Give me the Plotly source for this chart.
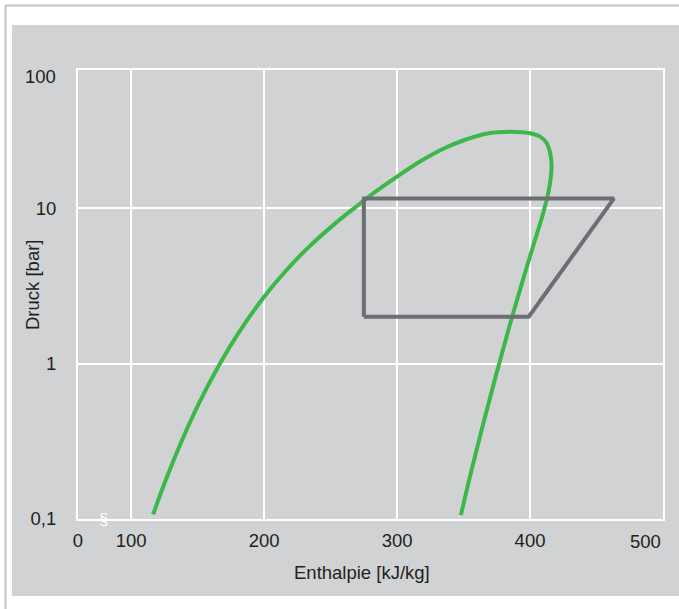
import plotly.graph_objects as go

# Saturation curve: liquid line up to the critical region, then vapour line down
sat_h = [116.5, 126.0, 137.9, 151.3, 166.8, 181.0, 199.3, 216.7, 233.5, 253.3,
         267.9, 283.1, 299.4, 317.5, 334.4, 350.7, 368.8, 385.0,
         400.1, 407.6, 412.6, 415.1, 416.2, 415.6, 413.8, 409.3, 402.1, 393.3,
         383.2, 373.6, 364.4, 355.6, 348.0]
sat_p = [0.107, 0.178, 0.316, 0.562, 1.0, 1.585, 2.64, 3.98, 5.61, 7.94,
         10.0, 12.6, 15.8, 20.0, 24.0, 27.4, 30.3, 31.0,
         30.3, 28.8, 26.1, 22.6, 19.1, 15.8, 12.6, 8.91, 5.62, 3.16,
         1.585, 0.794, 0.398, 0.200, 0.106]

# Refrigeration cycle: expansion, evaporation, compression, condensation
cycle_h = [275, 275, 463, 399, 275]
cycle_p = [2.0, 11.5, 11.5, 2.0, 2.0]

x_tickvals = [60, 100, 200, 300, 400, 500]
x_ticktext = ["0", "100", "200", "300", "400", ""]
y_top = 77.3
y_tickvals = [0.1, 1, 10, y_top]
y_ticktext = ["0,1", "1", "10", ""]

GREEN = "#3cb84a"
GREY_LINE = "#6d6e71"
PANEL = "#d1d2d4"
TEXT = "#231f20"
FONT = "Liberation Sans, Arial, sans-serif"

fig = go.Figure()
fig.add_trace(go.Scatter(x=sat_h, y=sat_p, mode="lines",
                         line=dict(color=GREEN, width=4, shape="spline", smoothing=1.0),
                         hoverinfo="skip"))
fig.add_trace(go.Scatter(x=cycle_h, y=cycle_p, mode="lines",
                         line=dict(color=GREY_LINE, width=4),
                         hoverinfo="skip"))

L, R, T, B = 78, 16, 70, 90
W, H = 679, 609
pw, ph = W - L - R, H - T - B


def px(xp):
    return (xp - L) / pw


def py(yp):
    return (H - B - yp) / ph


shapes = [
    # grey panel behind the chart
    dict(type="rect", xref="paper", yref="paper", layer="below",
         x0=px(12), x1=px(W + 2), y0=py(596), y1=py(25),
         fillcolor=PANEL, line=dict(width=0)),
    # frame lines top and left
    dict(type="line", xref="paper", yref="paper",
         x0=px(5), x1=px(W + 2), y0=py(5.5), y1=py(5.5),
         line=dict(color="#c4c4c6", width=2)),
    dict(type="line", xref="paper", yref="paper",
         x0=px(5.5), x1=px(5.5), y0=py(5), y1=py(H + 2),
         line=dict(color="#c4c4c6", width=2)),
]

annotations = [
    # axis break mark on the enthalpy axis
    dict(x=78.8, y=-1, xref="x", yref="y", text="§", showarrow=False,
         font=dict(size=17, color="white")),
    # end labels of both axes, kept inside the panel
    dict(x=500, y=0, xref="x", yref="paper", text="500", showarrow=False,
         xanchor="right", yanchor="top", yshift=-10,
         font=dict(size=18.5, color=TEXT)),
    dict(x=px(58), y=py(77), xref="paper", yref="paper", text="100", showarrow=False,
         xanchor="right", yanchor="middle",
         font=dict(size=18.5, color=TEXT)),
    # axis titles
    dict(x=px(362), y=py(572), xref="paper", yref="paper", text="Enthalpie [kJ/kg]",
         showarrow=False, xanchor="center", yanchor="middle",
         font=dict(size=18.5, color=TEXT)),
    dict(x=px(32), y=py(285), xref="paper", yref="paper", text="Druck [bar]",
         showarrow=False, textangle=-90, xanchor="center", yanchor="middle",
         font=dict(size=18.5, color=TEXT)),
]

fig.update_layout(
    width=W, height=H,
    margin=dict(l=L, r=R, t=T, b=B),
    paper_bgcolor="white",
    plot_bgcolor=PANEL,
    showlegend=False,
    shapes=shapes,
    annotations=annotations,
    font=dict(family=FONT, size=18.5, color=TEXT),
)
fig.update_xaxes(range=[60, 500], tickvals=x_tickvals, ticktext=x_ticktext,
                 showgrid=True, gridcolor="white", gridwidth=1.5, zeroline=False,
                 showline=True, linecolor="white", linewidth=2, mirror=True,
                 ticks="", ticklabelstandoff=4, automargin=False,
                 tickfont=dict(size=18.5, color=TEXT))
fig.update_yaxes(type="log", range=[-1, 1.888], tickvals=y_tickvals, ticktext=y_ticktext,
                 showgrid=True, gridcolor="white", gridwidth=1.5, zeroline=False,
                 showline=True, linecolor="white", linewidth=2, mirror=True,
                 ticks="", ticklabelstandoff=16, automargin=False,
                 tickfont=dict(size=18.5, color=TEXT))

fig.write_html("out.html")
